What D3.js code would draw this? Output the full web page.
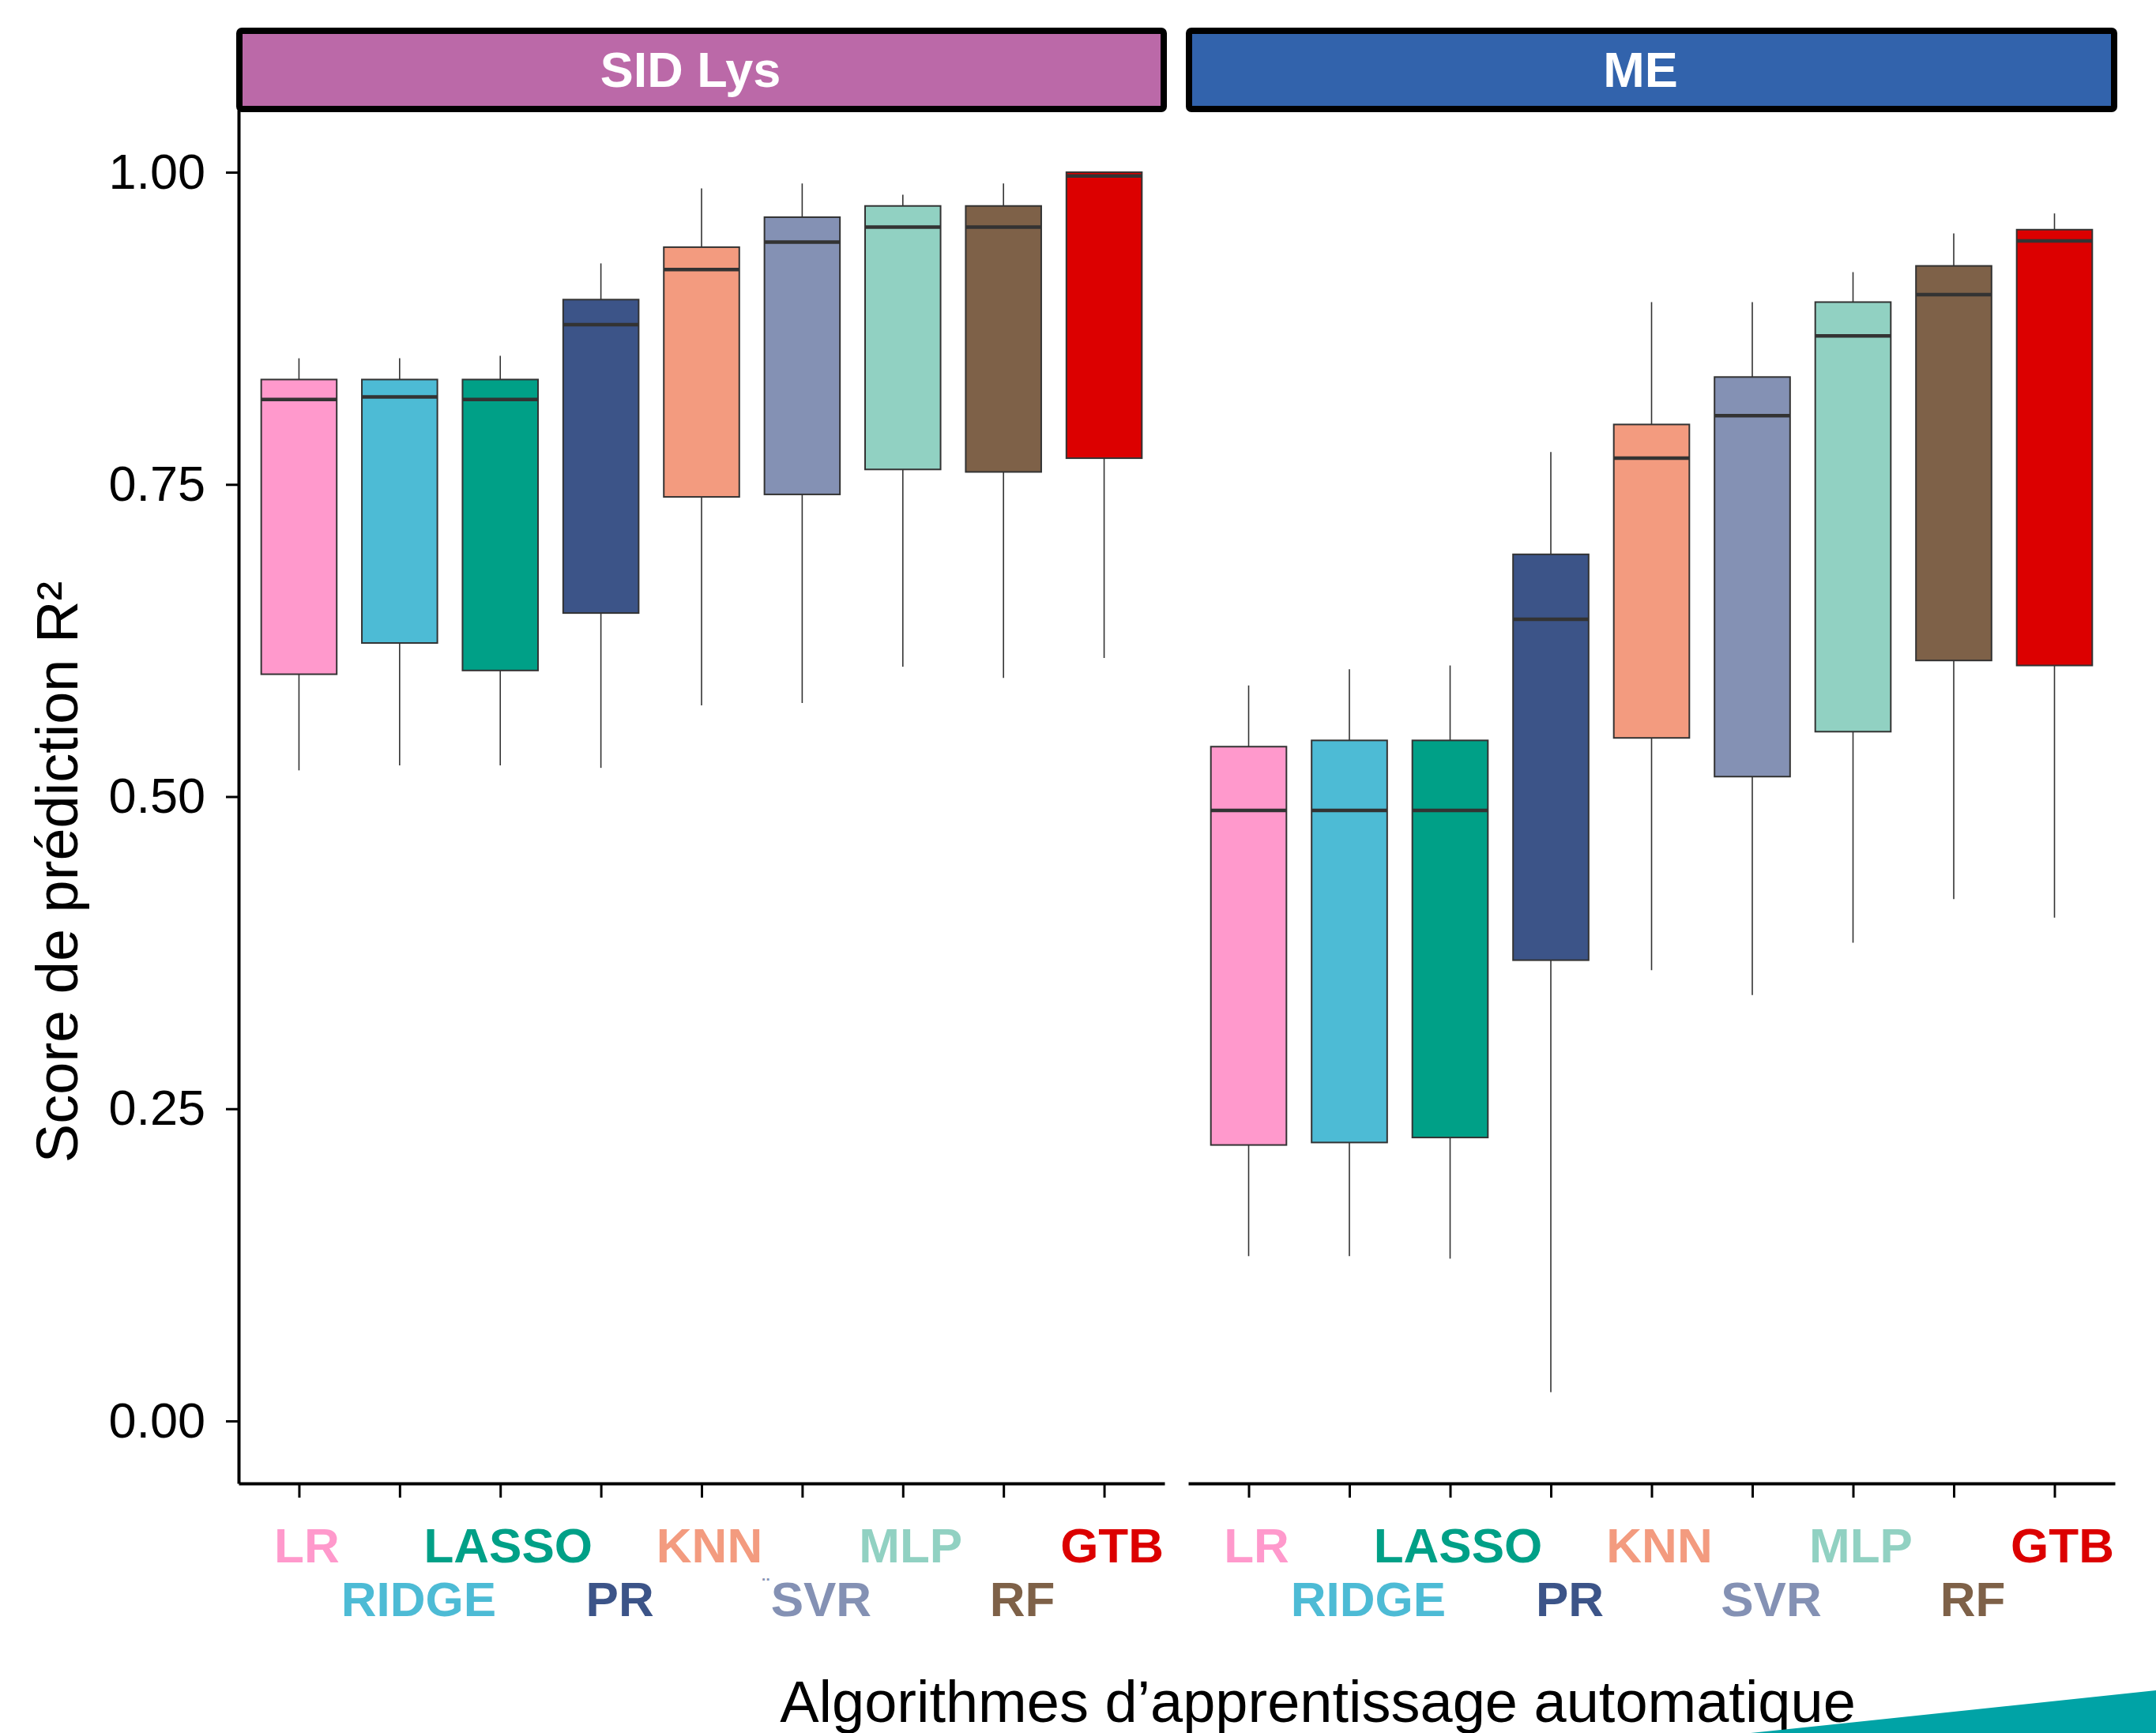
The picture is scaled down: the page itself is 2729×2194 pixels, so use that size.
<!DOCTYPE html>
<html lang="fr">
<head>
    <meta charset="UTF-8">
    <title>Score de prédiction R2 par algorithme</title>
    <script src="https://cdn.jsdelivr.net/npm/d3@7/dist/d3.min.js"></script>
    <style>
        body { margin: 0; background: #fff; }
        text { font-family: "Liberation Sans", Arial, Helvetica, sans-serif; }
        .tick text { font-size: 63px; fill: #000; }
        .strip-label { font-size: 63px; font-weight: bold; fill: #fff; }
        .algo-label { font-size: 62px; font-weight: bold; }
        .axis-title { font-size: 74px; fill: #000; }
    </style>
</head>
<body>
<script>
    // algorithms (x categories) and their colours
    const algos = ["LR", "RIDGE", "LASSO", "PR", "KNN", "SVR", "MLP", "RF", "GTB"];
    const algoColors = ["#FF99CC", "#4DBBD5", "#00A087", "#3C5488", "#F39B7F",
                        "#8491B4", "#91D1C2", "#7E6148", "#DC0000"];

    // facets
    const panels = ["SID Lys", "ME"];
    const panelColors = ["#BB69A8", "#3263AC"];

    // SID Lys box statistics
    const sidLow    = [0.521, 0.525, 0.525, 0.523, 0.573, 0.575, 0.604, 0.595, 0.611];
    const sidQ1     = [0.598, 0.623, 0.601, 0.647, 0.740, 0.742, 0.762, 0.760, 0.771];
    const sidMedian = [0.818, 0.820, 0.818, 0.878, 0.922, 0.944, 0.956, 0.956, 0.997];
    const sidQ3     = [0.834, 0.834, 0.834, 0.898, 0.940, 0.964, 0.973, 0.973, 1.000];
    const sidHigh   = [0.851, 0.851, 0.853, 0.927, 0.987, 0.991, 0.982, 0.991, 1.000];

    // ME box statistics
    const meLow    = [0.132, 0.132, 0.130, 0.023, 0.361, 0.341, 0.383, 0.418, 0.403];
    const meQ1     = [0.221, 0.223, 0.227, 0.369, 0.547, 0.516, 0.552, 0.609, 0.605];
    const meMedian = [0.489, 0.489, 0.489, 0.642, 0.771, 0.805, 0.869, 0.902, 0.945];
    const meQ3     = [0.540, 0.545, 0.545, 0.694, 0.798, 0.836, 0.896, 0.925, 0.954];
    const meHigh   = [0.589, 0.602, 0.605, 0.776, 0.896, 0.896, 0.920, 0.951, 0.967];

    // y ticks
    const yTicks = [0, 0.25, 0.5, 0.75, 1.0];

    const yTitle = "Score de prédiction R²";
    const xTitle = "Algorithmes d’apprentissage automatique";

    // build rows for each panel
    function rows(low, q1, med, q3, high) {
        return algos.map((a, i) => ({
            algo: a, color: algoColors[i], low: low[i], q1: q1[i], med: med[i], q3: q3[i], high: high[i], idx: i
        }));
    }
    const panelData = [
        rows(sidLow, sidQ1, sidMedian, sidQ3, sidHigh),
        rows(meLow, meQ1, meMedian, meQ3, meHigh)
    ];

    // layout
    const width = 2729;
    const height = 2194;
    const panelTop = 139;
    const panelBottom = 1878;
    const panelX = [[302, 1474], [1504, 2677]];

    const svg = d3.select("body").append("svg")
        .attr("width", width)
        .attr("height", height);

    const y = d3.scaleLinear()
        .domain([-0.05, 1.05])
        .range([panelBottom, panelTop]);

    // y axis on the left panel only
    const yAxis = svg.append("g")
        .attr("transform", `translate(${panelX[0][0]},0)`)
        .call(d3.axisLeft(y).tickValues(yTicks).tickFormat(d3.format(".2f"))
            .tickSize(16).tickSizeOuter(0).tickPadding(26));
    yAxis.select(".domain").attr("stroke", "#000").attr("stroke-width", 4);
    yAxis.selectAll(".tick line").attr("stroke", "#000").attr("stroke-width", 3);
    yAxis.selectAll(".tick text").attr("font-size", null).attr("font-family", null);

    panels.forEach(function (name, p) {
        const x = d3.scalePoint()
            .domain(algos)
            .range(panelX[p])
            .padding(0.6);
        const boxW = x.step() * 0.75;
        const g = svg.append("g").attr("class", "panel");

        // x axis
        const xAxis = g.append("g")
            .attr("transform", `translate(0,${panelBottom})`)
            .call(d3.axisBottom(x).tickSize(18).tickSizeOuter(0).tickFormat(""));
        xAxis.select(".domain").attr("stroke", "#000").attr("stroke-width", 4);
        xAxis.selectAll(".tick line").attr("stroke", "#000").attr("stroke-width", 3);

        const box = g.selectAll("g.box")
            .data(panelData[p])
            .enter()
            .append("g")
            .attr("class", "box");

        // whiskers
        box.append("line")
            .attr("x1", d => x(d.algo)).attr("x2", d => x(d.algo))
            .attr("y1", d => y(d.high)).attr("y2", d => y(d.q3))
            .attr("stroke", "#333").attr("stroke-width", 1.6);
        box.append("line")
            .attr("x1", d => x(d.algo)).attr("x2", d => x(d.algo))
            .attr("y1", d => y(d.q1)).attr("y2", d => y(d.low))
            .attr("stroke", "#333").attr("stroke-width", 1.6);

        // boxes
        box.append("rect")
            .attr("x", d => x(d.algo) - boxW / 2)
            .attr("width", boxW)
            .attr("y", d => y(d.q3))
            .attr("height", d => y(d.q1) - y(d.q3))
            .attr("fill", d => d.color)
            .attr("stroke", "#333")
            .attr("stroke-width", 2);

        // medians
        box.append("line")
            .attr("x1", d => x(d.algo) - boxW / 2).attr("x2", d => x(d.algo) + boxW / 2)
            .attr("y1", d => y(d.med)).attr("y2", d => y(d.med))
            .attr("stroke", "#333").attr("stroke-width", 4.5);

        // staggered coloured category labels
        const labX = d => x(d.algo) + (d.idx % 2 ? 24 : 10);
        g.selectAll("text.algo-label")
            .data(panelData[p])
            .enter()
            .append("text")
            .attr("class", "algo-label")
            .attr("text-anchor", "middle")
            .attr("x", labX)
            .attr("y", d => d.idx % 2 ? 2046 : 1978)
            .attr("fill", d => d.color)
            .text(d => d.algo)
            .each(function (d) {
                // small stray mark before SVR in the first panel
                if (p === 0 && d.algo === "SVR") {
                    const w = this.getComputedTextLength();
                    g.append("text")
                        .attr("text-anchor", "end")
                        .attr("x", labX(d) - w / 2 - 2)
                        .attr("y", 2046 - 30)
                        .attr("font-size", 26)
                        .attr("font-weight", "bold")
                        .attr("fill", d.color)
                        .text("¨");
                }
            });

        // strip on top
        svg.append("rect")
            .attr("x", panelX[p][0] + 1)
            .attr("y", 39)
            .attr("width", panelX[p][1] - panelX[p][0] - 2)
            .attr("height", 99)
            .attr("rx", 3)
            .attr("fill", panelColors[p])
            .attr("stroke", "#000")
            .attr("stroke-width", 8);
        svg.append("text")
            .attr("class", "strip-label")
            .attr("text-anchor", "middle")
            .attr("x", (panelX[p][0] + panelX[p][1]) / 2 - 14)
            .attr("y", 110)
            .text(name);
    });

    // axis titles
    svg.append("text")
        .attr("class", "axis-title")
        .attr("text-anchor", "middle")
        .attr("transform", "translate(98,1104) rotate(-90)")
        .text(yTitle);

    svg.append("text")
        .attr("class", "axis-title")
        .attr("text-anchor", "middle")
        .attr("x", 1668)
        .attr("y", 2180)
        .text(xTitle);

    // teal corner decoration
    svg.append("polygon")
        .attr("points", [[2216, height], [width, 2140], [width, height]].map(d => d.join(",")).join(" "))
        .attr("fill", "#00A3A6");
</script>
</body>
</html>
